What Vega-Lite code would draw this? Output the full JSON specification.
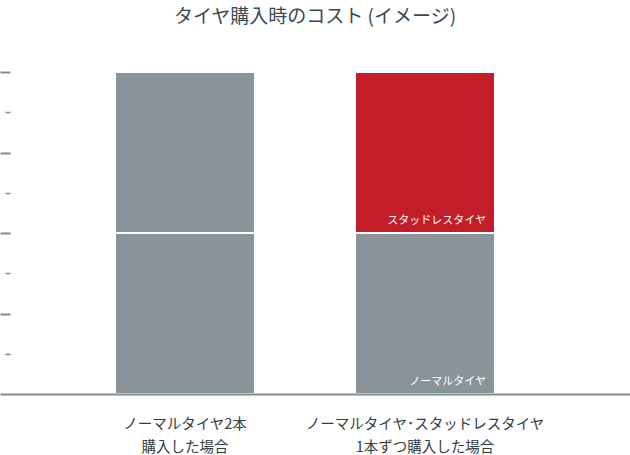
{
  "$schema": "https://vega.github.io/schema/vega-lite/v6.json",
  "width": 630,
  "height": 322,
  "autosize": {"type": "none"},
  "padding": {"top": 72, "left": 0, "right": 0, "bottom": 61},
  "config": {"view": {"stroke": null}, "font": "Noto Sans CJK JP"},
  "title": {
    "text": "タイヤ購入時のコスト (イメージ)",
    "font": "Noto Sans CJK JP",
    "fontSize": 19,
    "fontWeight": "normal",
    "color": "#3b4a52",
    "anchor": "middle",
    "offset": 44,
    "dx": 0
  },
  "data": {
    "values": [
      {"cat": "ノーマルタイヤ2本|購入した場合", "type": "normal", "label": "", "start": 0, "end": 2},
      {"cat": "ノーマルタイヤ2本|購入した場合", "type": "normal", "label": "", "start": 2, "end": 4},
      {"cat": "ノーマルタイヤ･スタッドレスタイヤ|1本ずつ購入した場合", "type": "normal", "label": "ノーマルタイヤ", "start": 0, "end": 2},
      {"cat": "ノーマルタイヤ･スタッドレスタイヤ|1本ずつ購入した場合", "type": "studless", "label": "スタッドレスタイヤ", "start": 2, "end": 4}
    ]
  },
  "layer": [
    {
      "mark": {"type": "bar", "stroke": "white", "strokeWidth": 2},
      "encoding": {
        "x": {
          "field": "cat",
          "type": "nominal",
          "sort": null,
          "scale": {"paddingInner": 0.4167, "paddingOuter": 0.5208, "align": 0.46},
          "axis": {
            "title": null,
            "labelAngle": 0,
            "labelExpr": "split(datum.label, '|')",
            "ticks": false,
            "domainColor": "#7f8c8f",
            "domainWidth": 2,
            "labelFontSize": 14.5,
            "labelColor": "#333d42",
            "labelPadding": 23,
            "labelLineHeight": 23,
            "labelBaseline": "top",
            "labelLimit": 300,
            "zindex": 1
          }
        },
        "y": {
          "field": "end",
          "type": "quantitative",
          "scale": {"domain": [0, 4], "nice": false},
          "axis": {
            "title": null,
            "values": [0.5, 1, 1.5, 2, 2.5, 3, 3.5, 4],
            "labels": false,
            "domain": false,
            "grid": false,
            "offset": -10,
            "tickColor": "#7f8c8f",
            "tickSize": {"condition": {"test": "datum.value % 1 === 0", "value": 10}, "value": 5},
            "tickWidth": {"condition": {"test": "datum.value % 1 === 0", "value": 2}, "value": 1.5}
          }
        },
        "y2": {"field": "start"},
        "color": {
          "field": "type",
          "type": "nominal",
          "scale": {"domain": ["normal", "studless"], "range": ["#89949a", "#c21d28"]},
          "legend": null
        }
      }
    },
    {
      "transform": [{"filter": "datum.label != ''"}],
      "mark": {
        "type": "text",
        "align": "right",
        "baseline": "alphabetic",
        "dx": -9,
        "dy": -9.5,
        "color": "white",
        "fontSize": 11,
        "font": "Noto Sans CJK JP"
      },
      "encoding": {
        "x": {"field": "cat", "type": "nominal", "sort": null, "bandPosition": 1},
        "y": {"field": "start", "type": "quantitative"},
        "text": {"field": "label"}
      }
    }
  ]
}
